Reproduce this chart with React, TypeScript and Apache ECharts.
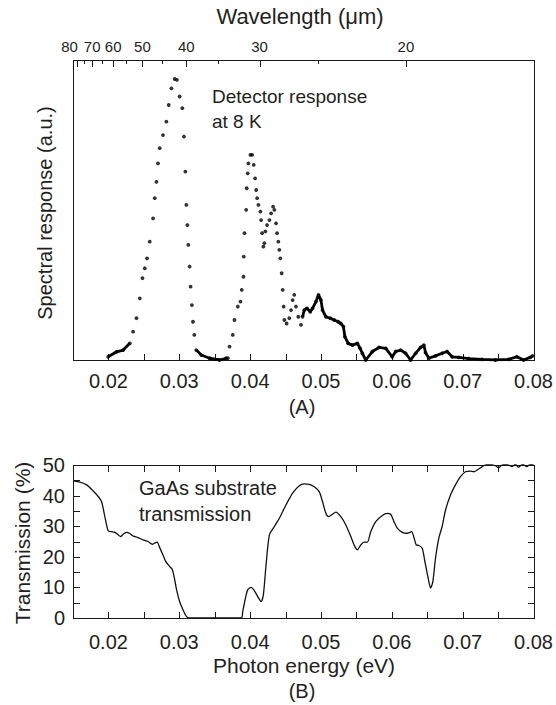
import React, { useEffect, useRef } from 'react';
import * as echarts from 'echarts';

// Panel A: detector spectral response (photon energy in eV, response in a.u.)
const respE = [
  0.01997, 0.02115, 0.02208, 0.02302, 0.02348, 0.02396, 0.02443, 0.02481, 0.02513, 0.02545,
  0.02583, 0.0263, 0.02654, 0.02678, 0.027, 0.02724, 0.0277, 0.02818, 0.02851, 0.02889,
  0.02935, 0.02967, 0.03005, 0.03043, 0.03066, 0.03086, 0.031, 0.03114, 0.03128, 0.03146,
  0.0316, 0.03178, 0.03193, 0.03212, 0.0324, 0.03311, 0.03428, 0.03568, 0.03662,
  0.03685, 0.03709, 0.03755, 0.03779, 0.03826, 0.03864, 0.03882, 0.03906, 0.0391, 0.0392,
  0.03944, 0.03952, 0.03966, 0.03976, 0.04004, 0.04028, 0.04051, 0.0407, 0.04085, 0.04099,
  0.04117, 0.04145, 0.04155, 0.04169, 0.04187, 0.04201, 0.04215, 0.04239, 0.04272, 0.04296,
  0.04324, 0.04342, 0.04366, 0.0438, 0.04398, 0.04412, 0.04426, 0.04445, 0.04459, 0.04473,
  0.04483, 0.04515, 0.04553, 0.04577, 0.046, 0.04623, 0.04647, 0.0468, 0.04718, 0.0474,
  0.04764, 0.04802, 0.04849, 0.04881, 0.04929, 0.04965, 0.04999, 0.05022, 0.05069, 0.0513,
  0.05186, 0.05242, 0.0528, 0.05317, 0.05337, 0.05383, 0.05444, 0.05514, 0.05552, 0.05584,
  0.05632, 0.05725, 0.05819, 0.05914, 0.06006, 0.06054, 0.06125, 0.06195, 0.06265, 0.06336,
  0.06406, 0.06452, 0.06476, 0.06523, 0.06617, 0.0671, 0.0678, 0.06851, 0.06945, 0.07086,
  0.07273, 0.07461, 0.07648, 0.07765, 0.07859, 0.07954, 0.07986,
];
const respV = [
  0.011, 0.028, 0.034, 0.057, 0.097, 0.143, 0.211, 0.28, 0.314, 0.348,
  0.405, 0.485, 0.554, 0.61, 0.673, 0.725, 0.77, 0.816, 0.873, 0.93,
  0.962, 0.959, 0.902, 0.862, 0.765, 0.645, 0.531, 0.462, 0.394, 0.32,
  0.251, 0.188, 0.131, 0.086, 0.034, 0.017, 0.006, 0.0, 0.006,
  0.006, 0.046, 0.086, 0.137, 0.183, 0.2, 0.24, 0.285, 0.354, 0.434,
  0.514, 0.588, 0.639, 0.673, 0.702, 0.702, 0.668, 0.622, 0.582, 0.554,
  0.531, 0.508, 0.479, 0.434, 0.388, 0.4, 0.44, 0.462, 0.479, 0.502,
  0.525, 0.514, 0.468, 0.434, 0.405, 0.377, 0.348, 0.297, 0.24, 0.183,
  0.137, 0.125, 0.143, 0.171, 0.205, 0.223, 0.183, 0.148, 0.12, 0.148,
  0.171, 0.177, 0.165, 0.177, 0.2, 0.223, 0.205, 0.171, 0.148, 0.143,
  0.137, 0.131, 0.125, 0.114, 0.08, 0.057, 0.051, 0.057, 0.04, 0.023,
  0.0, 0.029, 0.043, 0.04, 0.011, 0.029, 0.034, 0.023, 0.0, 0.023,
  0.043, 0.051, 0.025, 0.006, 0.014, 0.023, 0.029, 0.011, 0.009, 0.005,
  0.002, 0.0, 0.002, 0.011, 0.0, 0.009, 0.014,
];

// Panel B: GaAs substrate transmission (%)
const transE = [
  0.01504, 0.01598, 0.01693, 0.01786, 0.01856, 0.01904, 0.0194, 0.01974, 0.01997, 0.02044,
  0.02091, 0.02137, 0.02171, 0.02208, 0.02256, 0.02302, 0.02348, 0.02419, 0.02489, 0.02559,
  0.02621, 0.02654, 0.02686, 0.02724, 0.0277, 0.02808, 0.02865, 0.02903, 0.02935, 0.02967,
  0.03005, 0.03052, 0.031, 0.03136, 0.03873, 0.03896, 0.03934, 0.03966, 0.04014, 0.04061,
  0.04107, 0.04155, 0.04187, 0.04225, 0.04272, 0.04342, 0.04412, 0.04507, 0.046, 0.04694,
  0.04764, 0.04834, 0.04905, 0.04975, 0.05022, 0.05069, 0.05106, 0.05162, 0.0521, 0.0528,
  0.05351, 0.05421, 0.05467, 0.05514, 0.05562, 0.05608, 0.05655, 0.05702, 0.05773, 0.05866,
  0.05936, 0.05984, 0.0603, 0.06077, 0.06147, 0.06217, 0.06279, 0.06312, 0.06344, 0.06382,
  0.06429, 0.06466, 0.06513, 0.06547, 0.06579, 0.06617, 0.06663, 0.0671, 0.06758, 0.06828,
  0.06898, 0.06969, 0.07039, 0.07109, 0.07156, 0.07226, 0.07297, 0.07367, 0.07461, 0.07508,
  0.07554, 0.07624, 0.07695, 0.07742, 0.07789, 0.07845, 0.07906, 0.07954, 0.08,
];
const transV = [
  44.8, 44.4, 43.5, 41.5, 39.7, 38.0, 34.2, 30.4, 28.5, 28.2,
  28.0, 27.2, 26.6, 27.4, 28.0, 27.6, 26.8, 26.3, 25.5, 25.0,
  24.1, 24.5, 24.8, 23.0, 20.6, 18.5, 16.8, 15.8, 12.5, 8.7,
  5.4, 2.7, 0.5, 0.0, 0.0, 2.2, 6.5, 9.2, 10.0, 8.9,
  7.0, 5.4, 7.6, 17.4, 27.2, 29.9, 32.6, 37.0, 40.8, 43.2,
  43.8, 43.7, 42.9, 41.3, 38.0, 34.2, 33.1, 33.9, 34.6, 33.1,
  30.4, 26.6, 23.9, 22.3, 23.9, 24.8, 24.8, 28.2, 31.5, 33.5,
  34.2, 33.9, 31.5, 29.4, 28.0, 27.7, 28.2, 26.3, 23.9, 23.7,
  22.8, 18.5, 13.0, 9.8, 11.9, 19.6, 26.1, 29.9, 35.3, 40.2,
  43.5, 46.2, 47.8, 48.0, 47.8, 48.7, 49.8, 50.2, 49.8, 49.1,
  50.0, 50.2, 49.5, 50.2, 49.3, 50.2, 49.5, 50.2, 50.2,
];

// Tick positions
const energyTicks = [
  0.015, 0.02, 0.025, 0.03, 0.035, 0.04, 0.045, 0.05, 0.055, 0.06, 0.065, 0.07, 0.075, 0.08,
];
const transTicks = [0, 5, 10, 15, 20, 25, 30, 35, 40, 45, 50];
const wavelengthMajor = [80, 70, 60, 50, 40, 30, 20];
const wavelengthMinor = [75, 65, 55, 45, 35, 25];
const HC = 1.23984; // eV·µm

// Ranges where the response data points merge into a continuous trace
const denseRanges = [
  [0.0199, 0.0232],
  [0.0323, 0.0367],
  [0.0474, 0.081],
];

const FONT = 'Liberation Sans, Arial, Helvetica, sans-serif';
const INK = '#231f20';
const AXIS = '#1a1a1a';
const E_MIN = 0.015;
const E_MAX = 0.08;
const Y_MAX_A = 1.027;
const Y_MAX_B = 50;

// thin filled bar (used for frame edges and tick marks)
const bar = (x: number, y: number, w: number, h: number) => ({
  type: 'rect',
  shape: { x, y, width: w, height: h },
  style: { fill: AXIS, stroke: null, lineWidth: 0 },
});

export default function App() {
  const ref = useRef<HTMLDivElement>(null);

  useEffect(() => {
    if (!ref.current) return;
    const chart = echarts.init(ref.current, null, { renderer: 'svg' });

    const respPts = respE.map((e, i) => [e, respV[i]]);
    const transPts = transE.map((e, i) => [e, transV[i]]);
    const waveTicks = [
      ...wavelengthMajor.map((w) => [HC / w, Y_MAX_A, w, 1]),
      ...wavelengthMinor.map((w) => [HC / w, Y_MAX_A, w, 0]),
    ];

    const energyLabel = (v: number) => {
      const m = Math.round(v * 1000);
      return m % 10 === 0 ? (m / 1000).toFixed(2) : '';
    };

    const energyAxis = (gridIndex: number, margin: number) => ({
      type: 'value',
      gridIndex,
      position: 'bottom',
      min: E_MIN,
      max: E_MAX,
      interval: 0.005,
      axisLine: { show: false },
      axisTick: { show: false },
      axisLabel: { show: true, formatter: energyLabel, fontSize: 20, fontFamily: FONT, color: INK, margin },
      splitLine: { show: false },
    });

    // frame of a panel, placed through the panel's own scales
    const box = (api: any, yMax: number) => {
      const bl = api.coord([E_MIN, 0]);
      const tr = api.coord([E_MAX, yMax]);
      const L = Math.round(bl[0]);
      const R = Math.round(tr[0]);
      const T = Math.round(tr[1]);
      const B = Math.round(bl[1]);
      return {
        L, R, T, B,
        edges: [
          bar(L, T, R - L + 1, 1),
          bar(L, B, R - L + 1, 1),
          bar(L, T, 1, B - T + 1),
          bar(R, T, 1, B - T + 1),
        ],
      };
    };

    const option: any = {
      animation: false,
      grid: [
        { left: 73, top: 60, width: 462, height: 300 },
        { left: 73, top: 465, width: 462, height: 153 },
      ],
      xAxis: [energyAxis(0, 11), energyAxis(1, 14)],
      yAxis: [
        {
          type: 'value',
          gridIndex: 0,
          min: 0,
          max: Y_MAX_A,
          axisLine: { show: false },
          axisTick: { show: false },
          axisLabel: { show: false },
          splitLine: { show: false },
        },
        {
          type: 'value',
          gridIndex: 1,
          min: 0,
          max: Y_MAX_B,
          interval: 5,
          axisLine: { show: false },
          axisTick: { show: false },
          axisLabel: {
            show: true,
            formatter: (v: number) => (Math.round(v) % 10 === 0 ? String(Math.round(v)) : ''),
            fontSize: 20,
            fontFamily: FONT,
            color: INK,
            margin: 8,
          },
          splitLine: { show: false },
        },
      ],
      series: [
        {
          type: 'scatter',
          xAxisIndex: 0,
          yAxisIndex: 0,
          data: respPts,
          symbol: 'circle',
          symbolSize: 3.8,
          itemStyle: { color: '#000' },
          silent: true,
        },
        ...denseRanges.map(([a, b]) => ({
          type: 'line',
          xAxisIndex: 0,
          yAxisIndex: 0,
          data: respPts.filter((p) => p[0] >= a && p[0] <= b),
          showSymbol: false,
          lineStyle: { color: '#000', width: 2.8 },
          silent: true,
        })),
        {
          type: 'line',
          xAxisIndex: 1,
          yAxisIndex: 1,
          data: transPts,
          showSymbol: false,
          smooth: 0.25,
          lineStyle: { color: '#111', width: 1.3 },
          silent: true,
        },
        {
          // panel A frame and bottom energy ticks
          type: 'custom',
          xAxisIndex: 0,
          yAxisIndex: 0,
          data: energyTicks.map((e) => [e, 0]),
          silent: true,
          clip: false,
          renderItem: (params: any, api: any) => {
            const f = box(api, Y_MAX_A);
            const x = Math.round(api.coord([api.value(0), 0])[0]);
            const children: any[] = [bar(x, f.B - 6, 1, 6)];
            if (params.dataIndex === 0) children.push(...f.edges);
            return { type: 'group', children };
          },
        },
        {
          // panel A top wavelength scale, placed through the energy axis
          type: 'custom',
          xAxisIndex: 0,
          yAxisIndex: 0,
          data: waveTicks,
          silent: true,
          clip: false,
          renderItem: (_params: any, api: any) => {
            const e = api.value(0);
            const w = api.value(2);
            const major = api.value(3) === 1;
            const p = api.coord([e, Y_MAX_A]);
            const x = Math.round(p[0]);
            const T = Math.round(p[1]);
            const children: any[] = [bar(x, T + 1, 1, major ? 6 : 3)];
            if (major) {
              children.push({
                type: 'text',
                x: p[0] + (w === 80 ? -7 : 0),
                y: p[1] - 6,
                style: {
                  text: String(w),
                  fontSize: 15,
                  fontFamily: FONT,
                  fill: INK,
                  textAlign: 'center',
                  textVerticalAlign: 'bottom',
                },
              });
            }
            return { type: 'group', children };
          },
        },
        {
          // panel B frame, bottom and top energy ticks
          type: 'custom',
          xAxisIndex: 1,
          yAxisIndex: 1,
          data: energyTicks.map((e) => [e, 0]),
          silent: true,
          clip: false,
          renderItem: (params: any, api: any) => {
            const f = box(api, Y_MAX_B);
            const x = Math.round(api.coord([api.value(0), 0])[0]);
            const children: any[] = [bar(x, f.B - 6, 1, 6), bar(x, f.T + 1, 1, 6)];
            if (params.dataIndex === 0) children.push(...f.edges);
            return { type: 'group', children };
          },
        },
        {
          // panel B left and right transmission ticks
          type: 'custom',
          xAxisIndex: 1,
          yAxisIndex: 1,
          data: transTicks.map((t) => [E_MIN, t]),
          silent: true,
          clip: false,
          renderItem: (_params: any, api: any) => {
            const f = box(api, Y_MAX_B);
            const y = Math.round(api.coord([E_MIN, api.value(1)])[1]);
            return {
              type: 'group',
              children: [bar(f.L + 1, y, 6, 1), bar(f.R - 6, y, 6, 1)],
            };
          },
        },
      ],
      graphic: [
        { type: 'text', x: 300, y: 16, style: { text: 'Wavelength (μm)', fontSize: 22, fontFamily: FONT, fill: INK, textAlign: 'center', textVerticalAlign: 'middle' } },
        { type: 'text', x: 45, y: 213, rotation: Math.PI / 2, style: { text: 'Spectral response (a.u.)', fontSize: 20, fontFamily: FONT, fill: INK, textAlign: 'center', textVerticalAlign: 'middle' } },
        { type: 'text', x: 212, y: 96, style: { text: 'Detector response', fontSize: 19, fontFamily: FONT, fill: INK, textAlign: 'left', textVerticalAlign: 'middle' } },
        { type: 'text', x: 212, y: 121, style: { text: 'at 8 K', fontSize: 19, fontFamily: FONT, fill: INK, textAlign: 'left', textVerticalAlign: 'middle' } },
        { type: 'text', x: 302, y: 407, style: { text: '(A)', fontSize: 20, fontFamily: FONT, fill: INK, textAlign: 'center', textVerticalAlign: 'middle' } },
        { type: 'text', x: 139, y: 488, style: { text: 'GaAs substrate', fontSize: 20, fontFamily: FONT, fill: INK, textAlign: 'left', textVerticalAlign: 'middle' } },
        { type: 'text', x: 139, y: 514, style: { text: 'transmission', fontSize: 20, fontFamily: FONT, fill: INK, textAlign: 'left', textVerticalAlign: 'middle' } },
        { type: 'text', x: 22, y: 543, rotation: Math.PI / 2, style: { text: 'Transmission (%)', fontSize: 21, fontFamily: FONT, fill: INK, textAlign: 'center', textVerticalAlign: 'middle' } },
        { type: 'text', x: 304, y: 665, style: { text: 'Photon energy (eV)', fontSize: 21, fontFamily: FONT, fill: INK, textAlign: 'center', textVerticalAlign: 'middle' } },
        { type: 'text', x: 302, y: 691, style: { text: '(B)', fontSize: 20, fontFamily: FONT, fill: INK, textAlign: 'center', textVerticalAlign: 'middle' } },
      ],
    };

    chart.setOption(option);
    return () => {
      chart.dispose();
    };
  }, []);

  return (
    <div
      ref={ref}
      style={{ position: 'fixed', left: 0, top: 0, width: 556, height: 705, background: '#ffffff' }}
    />
  );
}
